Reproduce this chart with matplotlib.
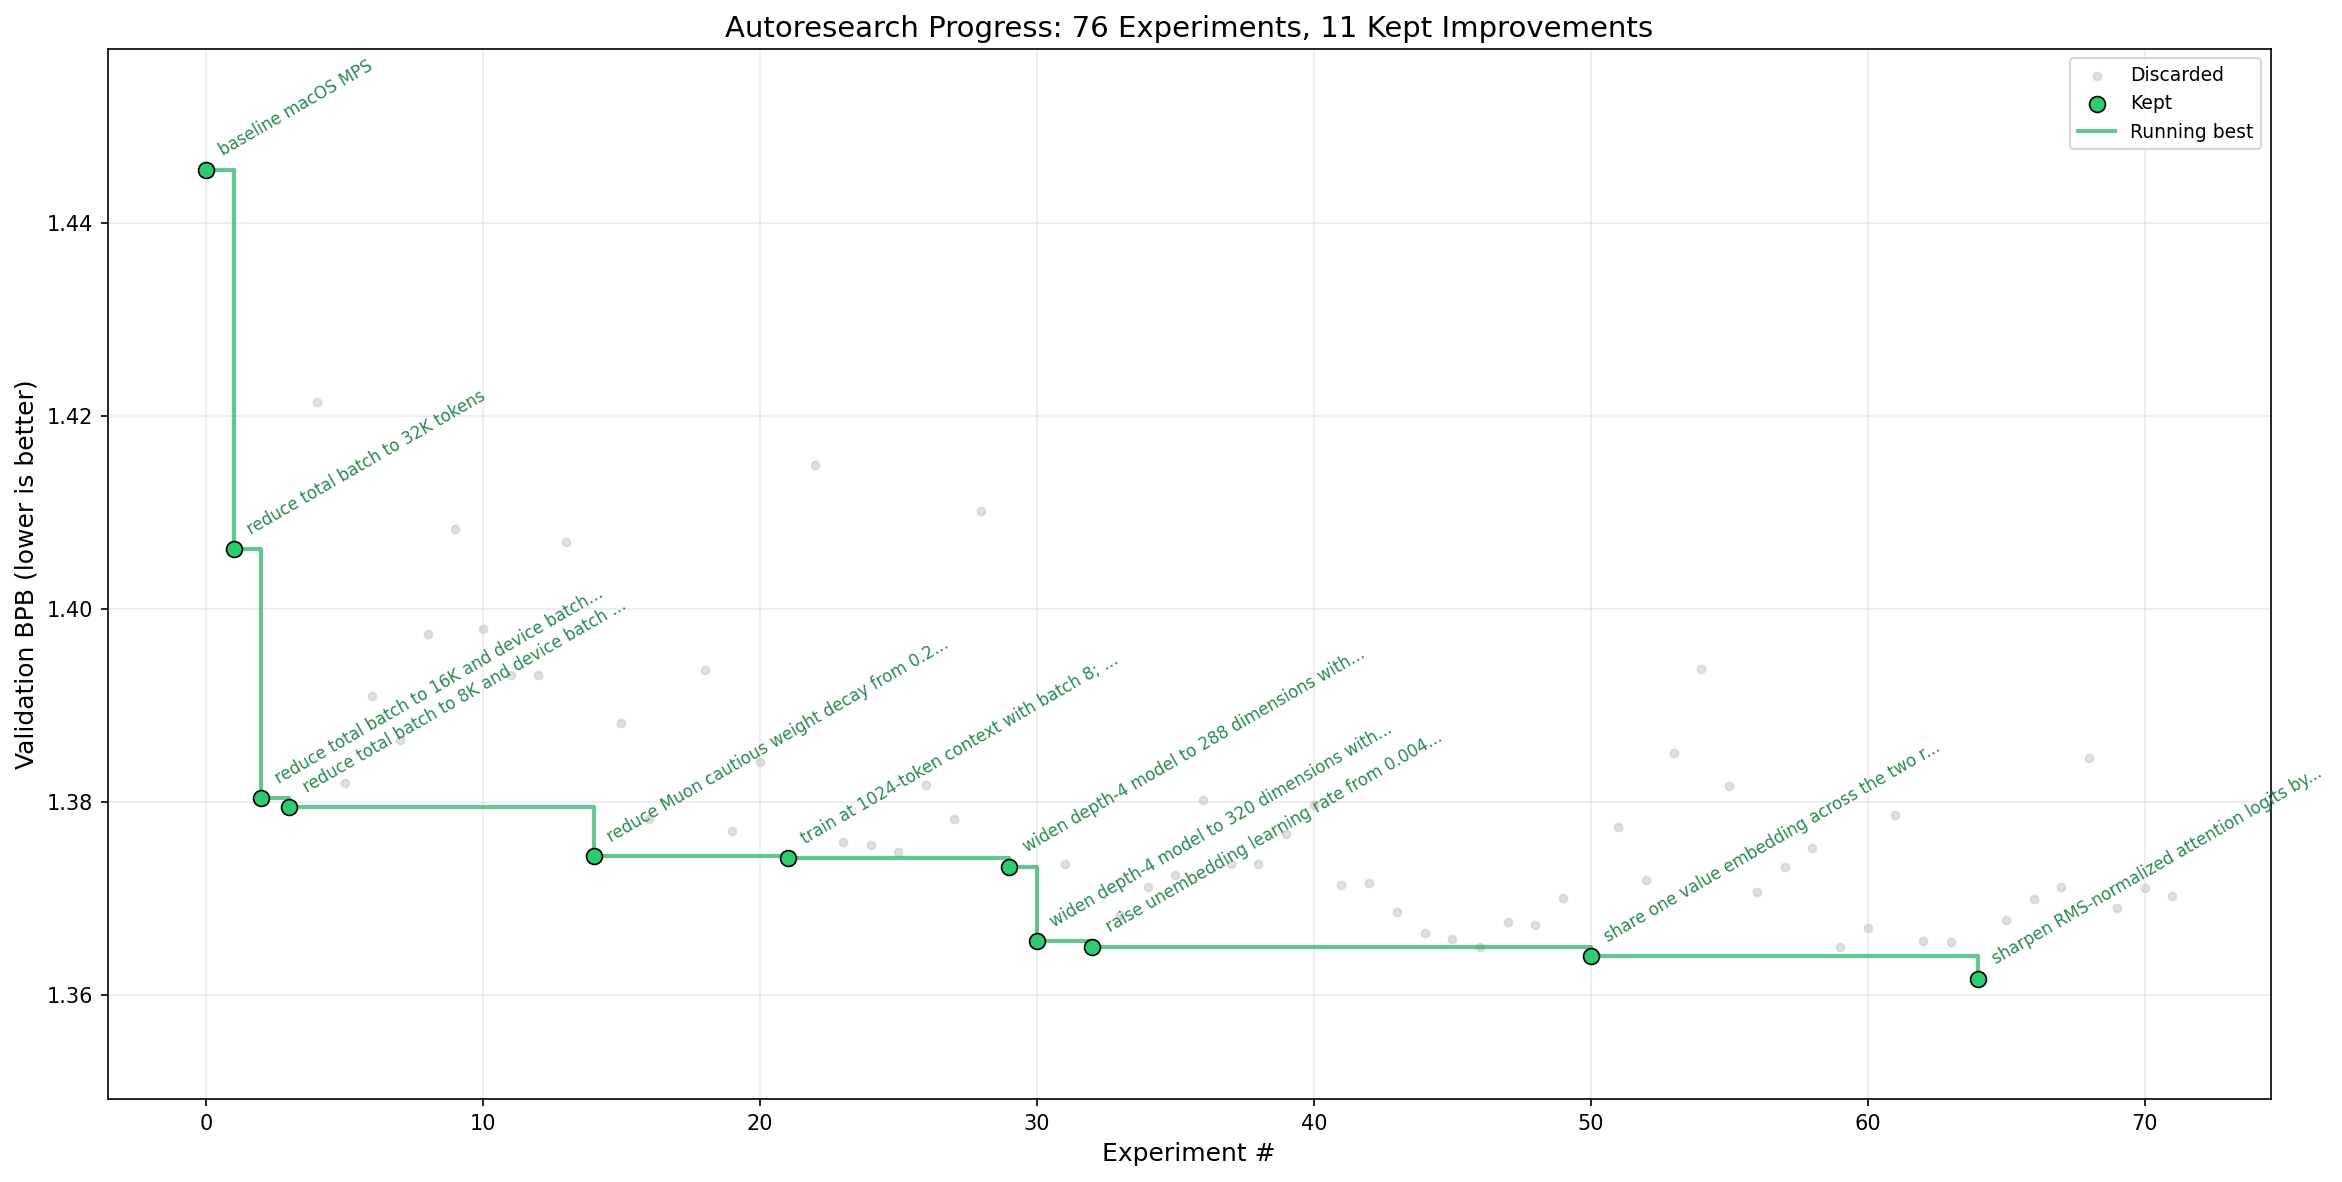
"""
Autoresearch progress chart: validation BPB per experiment, kept vs discarded,
with the running-best step line.
"""

import matplotlib

matplotlib.use("Agg")
import matplotlib.pyplot as plt

# discarded experiments (index, val_bpb)
disc_x = [4, 5, 6, 7, 8, 9, 10, 11, 12, 13, 15, 16, 18, 19, 20,
          22, 23, 24, 25, 26, 27, 28, 31, 33, 34, 35, 36, 37, 38, 39,
          40, 41, 42, 43, 44, 45, 46, 47, 48, 49, 51, 52, 53, 54, 55,
          56, 57, 58, 59, 60, 61, 62, 63, 65, 66, 67, 68, 69, 70, 71]
disc_bpb = [1.4214, 1.3820, 1.3910, 1.3864, 1.3974, 1.4083, 1.3979, 1.3932, 1.3932, 1.4069,
            1.3882, 1.3782, 1.3937, 1.3770, 1.3841,
            1.4149, 1.3758, 1.3755, 1.3748, 1.3818, 1.3782, 1.4101, 1.3736, 1.3683, 1.3712,
            1.3724, 1.3802, 1.3736, 1.3736, 1.3767,
            1.3797, 1.3714, 1.3716, 1.3686, 1.3664, 1.3658, 1.3650, 1.3676, 1.3673, 1.3701,
            1.3774, 1.3719, 1.3851, 1.3938, 1.3817,
            1.3707, 1.3733, 1.3752, 1.3650, 1.3669, 1.3787, 1.3656, 1.3655, 1.3678, 1.3699,
            1.3712, 1.3846, 1.3690, 1.3711, 1.3703]

# kept experiments
kept_x = [0, 1, 2, 3, 14, 21, 29, 30, 32, 50, 64]
kept_bpb = [1.4455, 1.4062, 1.3804, 1.3795, 1.3744, 1.3742, 1.3733, 1.3656, 1.3650, 1.3640, 1.3617]
kept_desc = [
    "baseline macOS MPS",
    "reduce total batch to 32K tokens",
    "reduce total batch to 16K and device batch...",
    "reduce total batch to 8K and device batch ...",
    "reduce Muon cautious weight decay from 0.2...",
    "train at 1024-token context with batch 8; ...",
    "widen depth-4 model to 288 dimensions with...",
    "widen depth-4 model to 320 dimensions with...",
    "raise unembedding learning rate from 0.004...",
    "share one value embedding across the two r...",
    "sharpen RMS-normalized attention logits by...",
]

n_total = 76

fig, ax = plt.subplots(figsize=(2342 / 150, 1182 / 150), dpi=150)
fig.subplots_adjust(left=0.046, right=0.9695, top=0.9585, bottom=0.070)

ax.scatter(disc_x, disc_bpb, s=14, color="#c4c4c4", alpha=0.5, zorder=2, label="Discarded")
ax.scatter(kept_x, kept_bpb, s=58, color="#2ecc71", edgecolors="black", linewidths=0.8,
           zorder=4, label="Kept")
ax.step(kept_x, kept_bpb, where="post", color="#27ae60", alpha=0.7, linewidth=2,
        zorder=3, label="Running best")

for x, y, desc in zip(kept_x, kept_bpb, kept_desc):
    ax.annotate(desc, (x, y), textcoords="offset points", xytext=(5, 5),
                fontsize=8, color="#2b8a50", rotation=30,
                ha="left", va="bottom")

ax.set_ylim(min(kept_bpb) - 0.0125, max(kept_bpb) + 0.0125)
ax.set_xlabel("Experiment #", fontsize=12)
ax.set_ylabel("Validation BPB (lower is better)", fontsize=12)
ax.set_title(f"Autoresearch Progress: {n_total} Experiments, {len(kept_x)} Kept Improvements",
             fontsize=14)
ax.grid(True, alpha=0.25)
ax.legend(loc="upper right", fontsize=9)

fig.savefig("out.png", dpi=150)
